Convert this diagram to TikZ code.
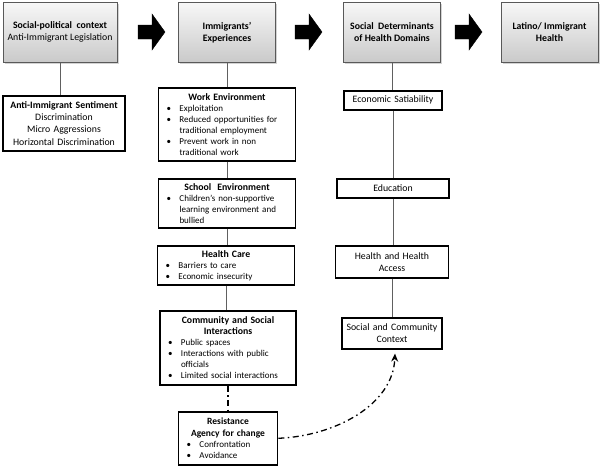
\documentclass[tikz,border=0pt]{standalone}
\usepackage{fontspec}
\setmainfont{Carlito}
\usetikzlibrary{shadows,calc,arrows.meta}
\newcommand\bitem[1]{\par\hangindent=18pt\hangafter=1\noindent\hbox to 18pt{\hspace{5pt}\textbullet\hfil}#1\par}
\tikzset{
  topbox/.style={draw=gray!70!black, line width=0.6pt, top color=gray!6, bottom color=gray!42,
    drop shadow={shadow xshift=1.5pt,shadow yshift=-1.5pt,opacity=0.35},
    anchor=north, minimum height=60pt, align=center, inner sep=2pt,
    font=\fontsize{9.8}{12}\selectfont},
  thickbox/.style={draw, line width=1.6pt, fill=white, inner sep=3pt, anchor=north},
  listbox/.style={thickbox, align=left, font=\fontsize{9}{11}\selectfont},
  domainbox/.style={thickbox, align=center, font=\fontsize{9.8}{12}\selectfont},
  link/.style={draw=gray!75!black, line width=0.7pt},
  dashlink/.style={draw, line width=1.3pt, dash pattern=on 6pt off 3.5pt on 1.5pt off 3.5pt},
  blockarrow/.style={fill=black, draw=black, line width=0.4pt}
}
\begin{document}
\begin{tikzpicture}[x=1pt,y=-1pt]
\path[use as bounding box] (0,0) rectangle (600,466);

% top row
\node[topbox, minimum width=114pt] (t1) at (60,2) {\textbf{Social-political\ \ context}\\Anti-Immigrant Legislation};
\node[topbox, minimum width=97pt] (t2) at (227,2) {\textbf{Immigrants’}\\\textbf{Experiences}};
\node[topbox, minimum width=97pt] (t3) at (392,2) {\textbf{Social\ \ Determinants}\\\textbf{of Health Domains}};
\node[topbox, minimum width=97pt] (t4) at (549.5,2) {\textbf{Latino/ Immigrant}\\\textbf{Health}};

% block arrows
\foreach \xa in {138,295,455}{
  \fill[blockarrow] (\xa,25) -- (\xa+14,25) -- (\xa+14,14) -- (\xa+27,32) -- (\xa+14,50) -- (\xa+14,39) -- (\xa,39) -- cycle;
}

% left column
\node[thickbox, align=center, font=\fontsize{9.8}{12.3}\selectfont, text width=116pt, minimum height=55pt] (anti) at (64,95)
  {\textbf{Anti-Immigrant Sentiment}\\Discrimination\\Micro Aggressions\\Horizontal Discrimination};

% middle column
\node[listbox, text width=131pt, minimum height=73pt] (work) at (227,87)
  {{\centering\bfseries\fontsize{9.8}{11}\selectfont Work Environment\par}
   \bitem{Exploitation}
   \bitem{Reduced opportunities for\newline traditional employment}
   \bitem{Prevent work in non\newline traditional work}};
\node[listbox, text width=131pt, minimum height=49pt] (school) at (227,178)
  {{\centering\bfseries\fontsize{9.8}{11}\selectfont School\ \ Environment\par}
   \bitem{Children’s non-supportive\newline learning environment and\newline bullied}};
\node[listbox, text width=131pt, minimum height=39pt] (care) at (226,245)
  {{\centering\bfseries\fontsize{9.8}{11}\selectfont Health Care\par}
   \bitem{Barriers to care}
   \bitem{Economic insecurity}};
\node[listbox, text width=130pt, minimum height=74pt] (comm) at (228,310)
  {{\centering\bfseries\fontsize{9.8}{11.5}\selectfont Community and Social\\Interactions\par}
   \bitem{Public spaces}
   \bitem{Interactions with public\newline officials}
   \bitem{Limited social interactions}};
\node[listbox, text width=93pt, minimum height=53pt] (resist) at (228,411)
  {{\centering\bfseries\fontsize{9.5}{11.5}\selectfont Resistance\\Agency for change\par}
   \bitem{Confrontation}
   \bitem{Avoidance}};

% right column
\node[domainbox, text width=92pt, minimum height=19pt] (econ) at (393,90) {Economic Satiability};
\node[domainbox, text width=106pt, minimum height=19pt] (edu) at (393,178) {Education};
\node[domainbox, text width=107pt, minimum height=32pt] (hacc) at (392,245) {Health and Health\\Access};
\node[domainbox, text width=94pt, minimum height=31pt] (soc) at (392,317) {Social and Community\\Context};

% connectors
\draw[link] (t1.south) -- (t1.south |- anti.north);
\draw[link] (t2.south) -- (work.north);
\draw[link] (work.south) -- (school.north);
\draw[link] (school.south) -- (school.south |- care.north);
\draw[link] (care.south) -- (care.south |- comm.north);
\draw[link] (t3.south) -- (t3.south |- econ.north);
\draw[link] (econ.south) -- (edu.north);
\draw[link] (edu.south) -- (edu.south |- hacc.north);
\draw[link] (hacc.south) -- (soc.north);
\draw[dashlink] (comm.south) -- (resist.north);
\draw[dashlink, -{Stealth[length=8pt,width=7pt]}] (resist.east) .. controls (335,436) and (393,405) .. ([xshift=3pt,yshift=-4pt]soc.south);
\end{tikzpicture}
\end{document}
